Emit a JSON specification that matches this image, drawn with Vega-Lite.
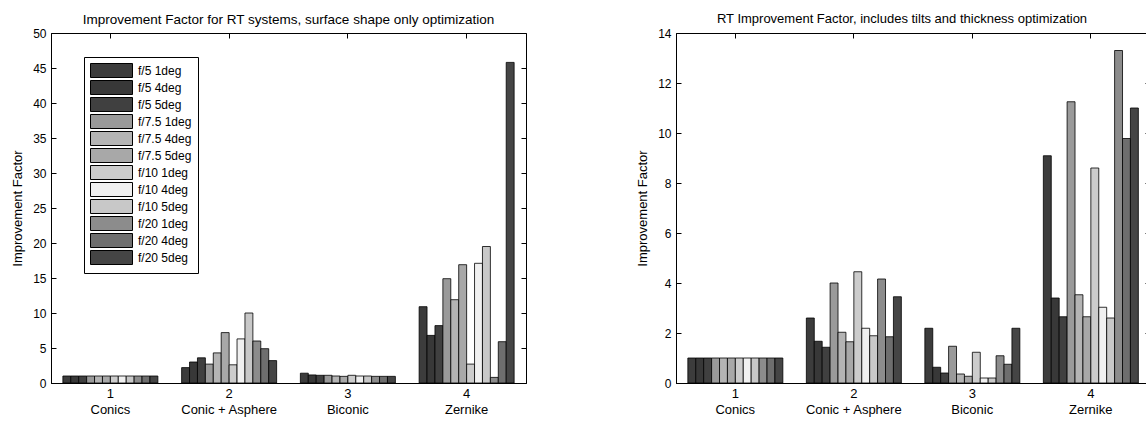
{
  "$schema": "https://vega.github.io/schema/vega-lite/v6.json",
  "padding": {"left": 10, "top": 12, "right": 0, "bottom": 0},
  "background": "white",
  "spacing": 108,
  "config": {
    "font": "Liberation Sans",
    "view": {"stroke": "black", "strokeWidth": 1},
    "axis": {"domainColor": "black", "tickColor": "black", "labelColor": "black", "titleColor": "black", "labelFont": "Liberation Sans", "titleFont": "Liberation Sans", "labelFontSize": 12, "titleFontSize": 13, "titleFontWeight": "normal", "ticks": false, "tickSize": 0, "grid": true, "gridColor": "black", "gridOpacity": 1, "gridWidth": 1},
    "title": {"font": "Liberation Sans", "fontSize": 13, "fontWeight": "normal", "color": "black", "offset": 1}
  },
  "datasets": {
    "left": [
      {"g": "1|Conics", "s": "f/5 1deg", "v": 1}, {"g": "1|Conics", "s": "f/5 4deg", "v": 1}, {"g": "1|Conics", "s": "f/5 5deg", "v": 1}, {"g": "1|Conics", "s": "f/7.5 1deg", "v": 1}, {"g": "1|Conics", "s": "f/7.5 4deg", "v": 1}, {"g": "1|Conics", "s": "f/7.5 5deg", "v": 1}, {"g": "1|Conics", "s": "f/10 1deg", "v": 1}, {"g": "1|Conics", "s": "f/10 4deg", "v": 1}, {"g": "1|Conics", "s": "f/10 5deg", "v": 1}, {"g": "1|Conics", "s": "f/20 1deg", "v": 1}, {"g": "1|Conics", "s": "f/20 4deg", "v": 1}, {"g": "1|Conics", "s": "f/20 5deg", "v": 1},
      {"g": "2|Conic + Asphere", "s": "f/5 1deg", "v": 2.2}, {"g": "2|Conic + Asphere", "s": "f/5 4deg", "v": 3.0}, {"g": "2|Conic + Asphere", "s": "f/5 5deg", "v": 3.6}, {"g": "2|Conic + Asphere", "s": "f/7.5 1deg", "v": 2.7}, {"g": "2|Conic + Asphere", "s": "f/7.5 4deg", "v": 4.3}, {"g": "2|Conic + Asphere", "s": "f/7.5 5deg", "v": 7.2}, {"g": "2|Conic + Asphere", "s": "f/10 1deg", "v": 2.6}, {"g": "2|Conic + Asphere", "s": "f/10 4deg", "v": 6.3}, {"g": "2|Conic + Asphere", "s": "f/10 5deg", "v": 10.0}, {"g": "2|Conic + Asphere", "s": "f/20 1deg", "v": 6.0}, {"g": "2|Conic + Asphere", "s": "f/20 4deg", "v": 4.9}, {"g": "2|Conic + Asphere", "s": "f/20 5deg", "v": 3.2},
      {"g": "3|Biconic", "s": "f/5 1deg", "v": 1.4}, {"g": "3|Biconic", "s": "f/5 4deg", "v": 1.15}, {"g": "3|Biconic", "s": "f/5 5deg", "v": 1.1}, {"g": "3|Biconic", "s": "f/7.5 1deg", "v": 1.1}, {"g": "3|Biconic", "s": "f/7.5 4deg", "v": 1.0}, {"g": "3|Biconic", "s": "f/7.5 5deg", "v": 0.95}, {"g": "3|Biconic", "s": "f/10 1deg", "v": 1.1}, {"g": "3|Biconic", "s": "f/10 4deg", "v": 1.0}, {"g": "3|Biconic", "s": "f/10 5deg", "v": 1.0}, {"g": "3|Biconic", "s": "f/20 1deg", "v": 0.95}, {"g": "3|Biconic", "s": "f/20 4deg", "v": 0.95}, {"g": "3|Biconic", "s": "f/20 5deg", "v": 0.95},
      {"g": "4|Zernike", "s": "f/5 1deg", "v": 10.9}, {"g": "4|Zernike", "s": "f/5 4deg", "v": 6.8}, {"g": "4|Zernike", "s": "f/5 5deg", "v": 8.2}, {"g": "4|Zernike", "s": "f/7.5 1deg", "v": 14.9}, {"g": "4|Zernike", "s": "f/7.5 4deg", "v": 11.9}, {"g": "4|Zernike", "s": "f/7.5 5deg", "v": 16.9}, {"g": "4|Zernike", "s": "f/10 1deg", "v": 2.7}, {"g": "4|Zernike", "s": "f/10 4deg", "v": 17.1}, {"g": "4|Zernike", "s": "f/10 5deg", "v": 19.5}, {"g": "4|Zernike", "s": "f/20 1deg", "v": 0.8}, {"g": "4|Zernike", "s": "f/20 4deg", "v": 5.9}, {"g": "4|Zernike", "s": "f/20 5deg", "v": 45.8}
    ],
    "right": [
      {"g": "1|Conics", "s": "f/5 1deg", "v": 1}, {"g": "1|Conics", "s": "f/5 4deg", "v": 1}, {"g": "1|Conics", "s": "f/5 5deg", "v": 1}, {"g": "1|Conics", "s": "f/7.5 1deg", "v": 1}, {"g": "1|Conics", "s": "f/7.5 4deg", "v": 1}, {"g": "1|Conics", "s": "f/7.5 5deg", "v": 1}, {"g": "1|Conics", "s": "f/10 1deg", "v": 1}, {"g": "1|Conics", "s": "f/10 4deg", "v": 1}, {"g": "1|Conics", "s": "f/10 5deg", "v": 1}, {"g": "1|Conics", "s": "f/20 1deg", "v": 1}, {"g": "1|Conics", "s": "f/20 4deg", "v": 1}, {"g": "1|Conics", "s": "f/20 5deg", "v": 1},
      {"g": "2|Conic + Asphere", "s": "f/5 1deg", "v": 2.6}, {"g": "2|Conic + Asphere", "s": "f/5 4deg", "v": 1.67}, {"g": "2|Conic + Asphere", "s": "f/5 5deg", "v": 1.43}, {"g": "2|Conic + Asphere", "s": "f/7.5 1deg", "v": 4.0}, {"g": "2|Conic + Asphere", "s": "f/7.5 4deg", "v": 2.03}, {"g": "2|Conic + Asphere", "s": "f/7.5 5deg", "v": 1.65}, {"g": "2|Conic + Asphere", "s": "f/10 1deg", "v": 4.45}, {"g": "2|Conic + Asphere", "s": "f/10 4deg", "v": 2.19}, {"g": "2|Conic + Asphere", "s": "f/10 5deg", "v": 1.89}, {"g": "2|Conic + Asphere", "s": "f/20 1deg", "v": 4.16}, {"g": "2|Conic + Asphere", "s": "f/20 4deg", "v": 1.85}, {"g": "2|Conic + Asphere", "s": "f/20 5deg", "v": 3.45},
      {"g": "3|Biconic", "s": "f/5 1deg", "v": 2.19}, {"g": "3|Biconic", "s": "f/5 4deg", "v": 0.63}, {"g": "3|Biconic", "s": "f/5 5deg", "v": 0.4}, {"g": "3|Biconic", "s": "f/7.5 1deg", "v": 1.47}, {"g": "3|Biconic", "s": "f/7.5 4deg", "v": 0.36}, {"g": "3|Biconic", "s": "f/7.5 5deg", "v": 0.27}, {"g": "3|Biconic", "s": "f/10 1deg", "v": 1.23}, {"g": "3|Biconic", "s": "f/10 4deg", "v": 0.2}, {"g": "3|Biconic", "s": "f/10 5deg", "v": 0.2}, {"g": "3|Biconic", "s": "f/20 1deg", "v": 1.09}, {"g": "3|Biconic", "s": "f/20 4deg", "v": 0.75}, {"g": "3|Biconic", "s": "f/20 5deg", "v": 2.19},
      {"g": "4|Zernike", "s": "f/5 1deg", "v": 9.09}, {"g": "4|Zernike", "s": "f/5 4deg", "v": 3.4}, {"g": "4|Zernike", "s": "f/5 5deg", "v": 2.65}, {"g": "4|Zernike", "s": "f/7.5 1deg", "v": 11.25}, {"g": "4|Zernike", "s": "f/7.5 4deg", "v": 3.53}, {"g": "4|Zernike", "s": "f/7.5 5deg", "v": 2.65}, {"g": "4|Zernike", "s": "f/10 1deg", "v": 8.6}, {"g": "4|Zernike", "s": "f/10 4deg", "v": 3.03}, {"g": "4|Zernike", "s": "f/10 5deg", "v": 2.6}, {"g": "4|Zernike", "s": "f/20 1deg", "v": 13.3}, {"g": "4|Zernike", "s": "f/20 4deg", "v": 9.78}, {"g": "4|Zernike", "s": "f/20 5deg", "v": 11.0}
    ]
  },
  "resolve": {"scale": {"color": "independent", "x": "independent", "y": "independent"}, "legend": {"color": "independent"}},
  "hconcat": [
    {
      "title": {"text": "Improvement Factor for RT systems, surface shape only optimization", "fontSize": 13.5},
      "width": 475,
      "height": 350,
      "data": {"name": "left"},
      "mark": {"type": "bar", "stroke": "black", "strokeWidth": 0.8},
      "encoding": {
        "x": {"field": "g", "type": "nominal", "sort": ["1|Conics", "2|Conic + Asphere", "3|Biconic", "4|Zernike"], "scale": {"paddingInner": 0.2, "paddingOuter": 0.1}, "axis": {"title": null, "labelAngle": 0, "labelExpr": "split(datum.label, '|')", "labelFontSize": 13, "labelLineHeight": 16, "labelPadding": 4, "tickBand": "center", "grid": true, "gridDash": [5, 340], "domain": true}},
        "xOffset": {"field": "s", "type": "nominal", "sort": ["f/5 1deg", "f/5 4deg", "f/5 5deg", "f/7.5 1deg", "f/7.5 4deg", "f/7.5 5deg", "f/10 1deg", "f/10 4deg", "f/10 5deg", "f/20 1deg", "f/20 4deg", "f/20 5deg"], "scale": {"paddingInner": 0, "paddingOuter": 0}},
        "y": {"field": "v", "type": "quantitative", "scale": {"domain": [0, 50], "nice": false}, "axis": {"title": "Improvement Factor", "values": [0, 5, 10, 15, 20, 25, 30, 35, 40, 45, 50], "grid": true, "gridDash": [5, 465], "labelPadding": 5, "titlePadding": 7, "minExtent": 20, "maxExtent": 20}},
        "color": {"field": "s", "type": "nominal",
          "scale": {"domain": ["f/5 1deg", "f/5 4deg", "f/5 5deg", "f/7.5 1deg", "f/7.5 4deg", "f/7.5 5deg", "f/10 1deg", "f/10 4deg", "f/10 5deg", "f/20 1deg", "f/20 4deg", "f/20 5deg"], "range": ["#3c3c3c", "#383838", "#404040", "#9a9a9a", "#b4b4b4", "#a8a8a8", "#cccccc", "#f0f0f0", "#c8c8c8", "#8c8c8c", "#6e6e6e", "#454545"]},
          "legend": {"title": null, "orient": "none", "legendX": 33, "legendY": 24, "direction": "vertical", "strokeColor": "black", "fillColor": "white", "padding": 6, "symbolType": "M-3,-1H3V1H-3Z", "symbolSize": 196, "symbolStrokeColor": "black", "symbolStrokeWidth": 1, "symbolOpacity": 1, "symbolOffset": 14, "labelOffset": 19, "labelFontSize": 12, "labelFont": "Liberation Sans", "labelColor": "black", "rowPadding": -2}}
      }
    },
    {
      "title": {"text": "RT Improvement Factor, includes tilts and thickness optimization", "dx": -11},
      "width": 474,
      "height": 350,
      "data": {"name": "right"},
      "mark": {"type": "bar", "stroke": "black", "strokeWidth": 0.8},
      "encoding": {
        "x": {"field": "g", "type": "nominal", "sort": ["1|Conics", "2|Conic + Asphere", "3|Biconic", "4|Zernike"], "scale": {"paddingInner": 0.2, "paddingOuter": 0.1}, "axis": {"title": null, "labelAngle": 0, "labelExpr": "split(datum.label, '|')", "labelFontSize": 13, "labelLineHeight": 16, "labelPadding": 4, "tickBand": "center", "grid": true, "gridDash": [5, 340], "domain": true}},
        "xOffset": {"field": "s", "type": "nominal", "sort": ["f/5 1deg", "f/5 4deg", "f/5 5deg", "f/7.5 1deg", "f/7.5 4deg", "f/7.5 5deg", "f/10 1deg", "f/10 4deg", "f/10 5deg", "f/20 1deg", "f/20 4deg", "f/20 5deg"], "scale": {"paddingInner": 0, "paddingOuter": 0}},
        "y": {"field": "v", "type": "quantitative", "scale": {"domain": [0, 14], "nice": false}, "axis": {"title": "Improvement Factor", "values": [0, 2, 4, 6, 8, 10, 12, 14], "grid": true, "gridDash": [5, 464], "labelPadding": 5, "titlePadding": 7, "minExtent": 20, "maxExtent": 20}},
        "color": {"field": "s", "type": "nominal",
          "scale": {"domain": ["f/5 1deg", "f/5 4deg", "f/5 5deg", "f/7.5 1deg", "f/7.5 4deg", "f/7.5 5deg", "f/10 1deg", "f/10 4deg", "f/10 5deg", "f/20 1deg", "f/20 4deg", "f/20 5deg"], "range": ["#3c3c3c", "#383838", "#404040", "#9a9a9a", "#b4b4b4", "#a8a8a8", "#cccccc", "#f0f0f0", "#c8c8c8", "#8c8c8c", "#6e6e6e", "#454545"]},
          "legend": null}
      }
    }
  ]
}
